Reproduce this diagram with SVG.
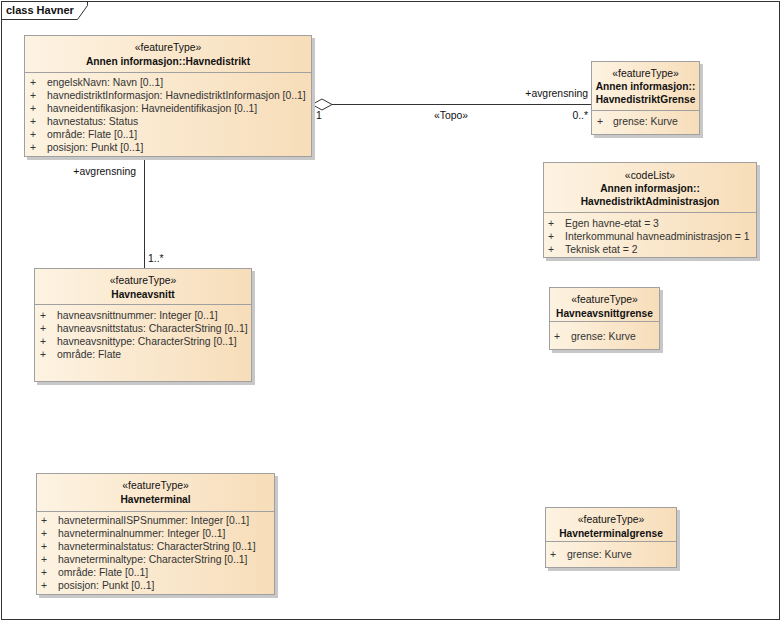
<svg xmlns="http://www.w3.org/2000/svg" width="782" height="622" viewBox="0 0 782 622">
<defs>
<linearGradient id="g" x1="0" y1="0" x2="1" y2="0">
<stop offset="0" stop-color="#FDF3E2"/>
<stop offset="1" stop-color="#F7DDB9"/>
</linearGradient>
<style>
text{font-family:"Liberation Sans",Arial,sans-serif;font-size:10.4px;fill:#111}
.c{text-anchor:middle}
.b{font-weight:bold;font-size:10.2px}
.a{fill:#333}
.box{fill:url(#g);stroke:#A0A0A0;stroke-width:1}
.sh{fill:#C8C8C8}
.div{stroke:#A0A0A0;stroke-width:1}
.ln{stroke:#333;stroke-width:1;fill:none}
</style>
</defs>
<rect x="0" y="0" width="782" height="622" fill="#fff"/>
<g id="frame">
<rect x="1.5" y="1.5" width="778" height="618" fill="none" stroke="#333"/>
<path d="M1.5,19.5 H77.5 L87.5,5.5 V1.5" fill="none" stroke="#333"/>
<text x="6" y="14" class="b" style="font-size:11px">class Havner</text>
</g>
<g id="connectors">
<line class="ln" x1="332" y1="104.5" x2="591" y2="104.5"/>
<path d="M312,104.5 L322,99 L332,104.5 L322,110 Z" fill="#fff" stroke="#333"/>
<text x="316" y="119">1</text>
<text x="451" y="119" class="c">«Topo»</text>
<text x="588" y="119" style="text-anchor:end">0..*</text>
<text x="588" y="97" style="text-anchor:end">+avgrensning</text>
<line class="ln" x1="144.5" y1="157" x2="144.5" y2="268"/>
<text x="136" y="175" style="text-anchor:end">+avgrensning</text>
<text x="148" y="262">1..*</text>
</g>
<g id="havnedistrikt">
<rect class="sh" x="27" y="38" width="288" height="122"/>
<rect class="box" x="24.5" y="35.5" width="287" height="121"/>
<line class="div" x1="24.5" y1="72.5" x2="311.5" y2="72.5"/>
<text x="168" y="51" class="c">«featureType»</text>
<text x="168" y="65" class="c b">Annen informasjon::Havnedistrikt</text>
<text x="30" y="86" class="a">+</text><text x="47" y="86" class="a">engelskNavn: Navn [0..1]</text>
<text x="30" y="99" class="a">+</text><text x="47" y="99" class="a">havnedistriktInformasjon: HavnedistriktInformasjon [0..1]</text>
<text x="30" y="112" class="a">+</text><text x="47" y="112" class="a">havneidentifikasjon: Havneidentifikasjon [0..1]</text>
<text x="30" y="125" class="a">+</text><text x="47" y="125" class="a">havnestatus: Status</text>
<text x="30" y="138" class="a">+</text><text x="47" y="138" class="a">område: Flate [0..1]</text>
<text x="30" y="151" class="a">+</text><text x="47" y="151" class="a">posisjon: Punkt [0..1]</text>
</g>
<g id="havnedistriktGrense">
<rect class="sh" x="594" y="64" width="109" height="74"/>
<rect class="box" x="591.5" y="61.5" width="108" height="73"/>
<line class="div" x1="591.5" y1="110.5" x2="699.5" y2="110.5"/>
<text x="645.5" y="77" class="c">«featureType»</text>
<text x="645.5" y="90" class="c b">Annen informasjon::</text>
<text x="645.5" y="103" class="c b">HavnedistriktGrense</text>
<text x="597" y="125" class="a">+</text><text x="613" y="125" class="a">grense: Kurve</text>
</g>
<g id="havnedistriktAdministrasjon">
<rect class="sh" x="546" y="165" width="214" height="96"/>
<rect class="box" x="543.5" y="162.5" width="213" height="95"/>
<line class="div" x1="543.5" y1="212.5" x2="756.5" y2="212.5"/>
<text x="650" y="179" class="c">«codeList»</text>
<text x="650" y="192" class="c b">Annen informasjon::</text>
<text x="650" y="205" class="c b">HavnedistriktAdministrasjon</text>
<text x="548" y="227" class="a">+</text><text x="565" y="227" class="a">Egen havne-etat = 3</text>
<text x="548" y="240" class="a">+</text><text x="565" y="240" class="a">Interkommunal havneadministrasjon = 1</text>
<text x="548" y="253" class="a">+</text><text x="565" y="253" class="a">Teknisk etat = 2</text>
</g>
<g id="havneavsnitt">
<rect class="sh" x="37" y="271" width="218" height="114"/>
<rect class="box" x="34.5" y="268.5" width="217" height="113"/>
<line class="div" x1="34.5" y1="304.5" x2="251.5" y2="304.5"/>
<text x="143" y="284" class="c">«featureType»</text>
<text x="143" y="298" class="c b">Havneavsnitt</text>
<text x="40" y="319" class="a">+</text><text x="57" y="319" class="a">havneavsnittnummer: Integer [0..1]</text>
<text x="40" y="332" class="a">+</text><text x="57" y="332" class="a">havneavsnittstatus: CharacterString [0..1]</text>
<text x="40" y="345" class="a">+</text><text x="57" y="345" class="a">havneavsnittype: CharacterString [0..1]</text>
<text x="40" y="358" class="a">+</text><text x="57" y="358" class="a">område: Flate</text>
</g>
<g id="havneavsnittgrense">
<rect class="sh" x="552" y="290" width="111" height="63"/>
<rect class="box" x="549.5" y="287.5" width="110" height="62"/>
<line class="div" x1="549.5" y1="321.5" x2="659.5" y2="321.5"/>
<text x="604.5" y="303" class="c">«featureType»</text>
<text x="604.5" y="317" class="c b">Havneavsnittgrense</text>
<text x="554" y="340" class="a">+</text><text x="571" y="340" class="a">grense: Kurve</text>
</g>
<g id="havneterminal">
<rect class="sh" x="39" y="476" width="239" height="122"/>
<rect class="box" x="36.5" y="473.5" width="238" height="121"/>
<line class="div" x1="36.5" y1="511.5" x2="274.5" y2="511.5"/>
<text x="155.5" y="489" class="c">«featureType»</text>
<text x="155.5" y="503" class="c b">Havneterminal</text>
<text x="41" y="524" class="a">+</text><text x="58" y="524" class="a">havneterminalISPSnummer: Integer [0..1]</text>
<text x="41" y="537" class="a">+</text><text x="58" y="537" class="a">havneterminalnummer: Integer [0..1]</text>
<text x="41" y="550" class="a">+</text><text x="58" y="550" class="a">havneterminalstatus: CharacterString [0..1]</text>
<text x="41" y="563" class="a">+</text><text x="58" y="563" class="a">havneterminaltype: CharacterString [0..1]</text>
<text x="41" y="576" class="a">+</text><text x="58" y="576" class="a">område: Flate [0..1]</text>
<text x="41" y="589" class="a">+</text><text x="58" y="589" class="a">posisjon: Punkt [0..1]</text>
</g>
<g id="havneterminalgrense">
<rect class="sh" x="548" y="510" width="132" height="61"/>
<rect class="box" x="545.5" y="507.5" width="131" height="60"/>
<line class="div" x1="545.5" y1="541.5" x2="676.5" y2="541.5"/>
<text x="611" y="523" class="c">«featureType»</text>
<text x="611" y="537" class="c b">Havneterminalgrense</text>
<text x="550" y="558" class="a">+</text><text x="567" y="558" class="a">grense: Kurve</text>
</g>
</svg>
